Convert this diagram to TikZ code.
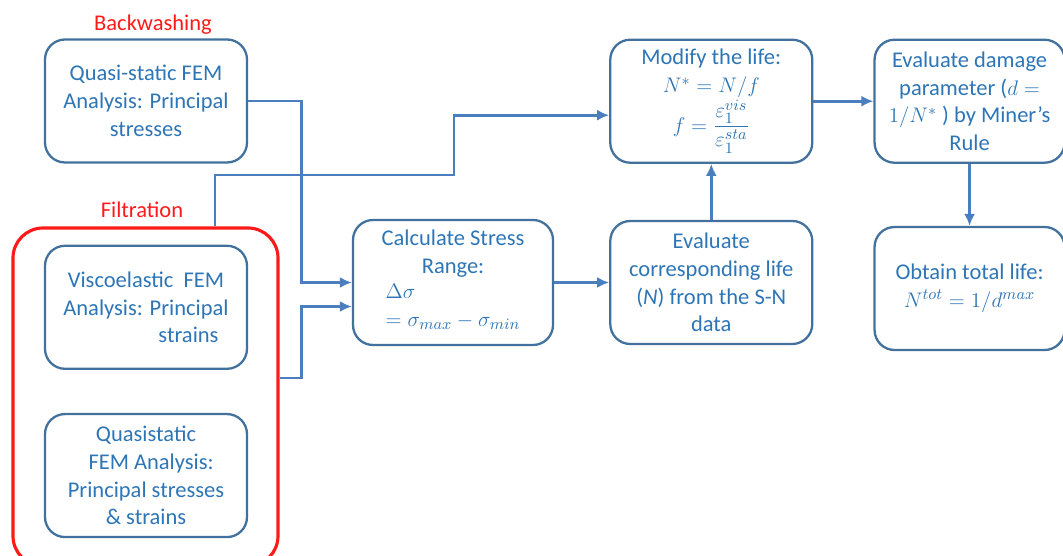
\documentclass[tikz,border=0pt]{standalone}
\usepackage{amsmath}
\usepackage{fontspec}
\setmainfont{Carlito}
\usepackage{xcolor}
\usetikzlibrary{arrows.meta,positioning}

\definecolor{boxline}{HTML}{41719C}
\definecolor{boxtext}{HTML}{2E75B6}
\definecolor{linkblue}{HTML}{4A7EBF}
\definecolor{groupred}{HTML}{FF1A1A}

\begin{document}
\begin{tikzpicture}[
    node distance=11mm and 11mm,
    block/.style={rectangle, rounded corners=4mm, draw=boxline, line width=1.3pt, align=center, minimum width=4.04cm, minimum height=2.46cm, text=boxtext, font=\fontsize{12.8}{15.8}\selectfont, inner sep=2pt},
    narrow/.style={block, minimum width=3.8cm},
    group/.style={rectangle, rounded corners=6mm, draw=groupred, line width=1.8pt, minimum width=5.3cm, minimum height=6.76cm},
    tag/.style={text=groupred, font=\fontsize{12.8}{15.8}\selectfont},
    arrow/.style={-{Latex[length=2.4mm,width=2.2mm]}, line width=1.6pt, draw=linkblue}
]
\useasboundingbox (0,0) rectangle (21.26,-11.12);
\clip (0,0) rectangle (21.26,-11.12);

% left column
\node[block] (qs) at (2.92,-2.02) {Quasi-static FEM\\Analysis: Principal\\stresses};
\node[block, below=1.62cm of qs] (visco) {Viscoelastic\ \ FEM\\Analysis: Principal\\\hspace*{1.7cm}strains};
\node[block, below=0.86cm of visco] (quasi) {Quasistatic\\\ \ FEM Analysis:\\Principal stresses\\\& strains};
\node[group] (filt) at (2.91,-7.94) {};
\node[tag] (bwlabel) at (3.06,-0.50) {Backwashing};
\node[tag] (filtlabel) at (2.84,-4.20) {Filtration};

% middle and right
\node[block, minimum width=4.0cm, minimum height=2.5cm] (calc) at (9.06,-5.65) {Calculate Stress\\Range:\\\begin{tabular}{@{}l@{}}$\Delta\sigma$\\$=\sigma_{max}-\sigma_{min}$\end{tabular}};
\node[block, right=1.1cm of calc] (life) {Evaluate\\corresponding life\\(\textit{N}) from the S-N\\data};
\node[block, above=1.12cm of life] (modify) {Modify the life:\\$N^{*}=N/f$\\$f=\dfrac{\varepsilon_1^{vis}}{\varepsilon_1^{sta}}$};
\node[narrow, right=1.2cm of modify] (damage) {Evaluate damage\\parameter ($d=$\\$1/N^{*}$ ) by Miner’s\\Rule};
\node[narrow, below=1.24cm of damage] (total) {Obtain total life:\\$N^{tot}=1/d^{max}$};

\draw[arrow] (qs.east) -- ++(1.06,0) |- (calc.west);
\draw[arrow] ([yshift=3.8mm]filt.east) -- ++(0.44,0) |- ([yshift=-4.8mm]calc.west);
\draw[arrow] ([xshift=13.9mm]filt.north) |- (9.08,-3.50) |- ([yshift=-2.8mm]modify.west);
\draw[arrow] (calc.east) -- (calc.east -| life.west);
\draw[arrow] (life.north) -- (modify.south);
\draw[arrow] (modify.east) -- (damage.west);
\draw[arrow] (damage.south) -- (total.north);

\end{tikzpicture}
\end{document}
